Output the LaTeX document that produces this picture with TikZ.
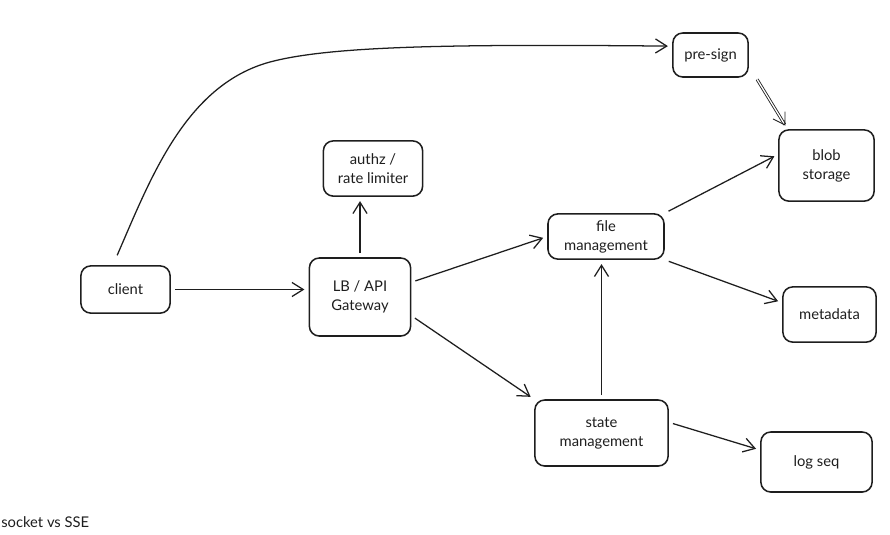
\documentclass[tikz,border=0pt]{standalone}
\usepackage{fontspec}
\setmainfont{Lato}
\usetikzlibrary{arrows.meta}
\definecolor{ink}{HTML}{1E1E1E}
\begin{document}
\begin{tikzpicture}[x=0.025cm,y=-0.025cm,
  box/.style={draw=ink,text=ink,rounded corners=7pt,line width=1.1pt,align=center,
    inner sep=0pt,font=\fontsize{10.5}{13.5}\selectfont},
  arr/.style={draw=ink,-{Straight Barb[length=8pt,width=10pt]},line width=0.9pt,
    shorten <=3pt,shorten >=3pt}]
\useasboundingbox (0,0) rectangle (890,534);
% boxes
\node[box,minimum width=2.23cm,minimum height=1.18cm] (client) at (125.5,289.5) {client};
\node[box,minimum width=2.53cm,minimum height=1.95cm] (gw) at (360,297) {LB / API\\Gateway};
\node[box,minimum width=2.48cm,minimum height=1.38cm] (authz) at (373,168.5) {authz /\\rate limiter};
\node[box,minimum width=2.90cm,minimum height=1.13cm] (file) at (606,236.5) {file\\management};
\node[box,minimum width=3.33cm,minimum height=1.65cm] (state) at (601.5,433) {state\\management};
\node[box,minimum width=1.88cm,minimum height=1.10cm] (presign) at (710.5,55) {pre-sign};
\node[box,minimum width=2.38cm,minimum height=1.78cm] (blob) at (826.5,165.5) {blob\\storage};
\node[box,minimum width=2.33cm,minimum height=1.38cm] (meta) at (829.5,314.5) {metadata};
\node[box,minimum width=2.78cm,minimum height=1.50cm] (logseq) at (816.5,462) {log seq};
\node[anchor=west,inner sep=0pt,text=ink,font=\fontsize{10.5}{12}\selectfont] (note) at (1,522) {socket vs SSE};
% arrows
\draw[arr] ([shift={(-10,-6)}]client.north) .. controls (150,180) and (185,85) .. (270,62)
  .. controls (330,46) and (450,44) .. (presign.167);
\draw[arr] (client.east) -- (client.east -| gw.west);
\draw[arr] (gw.north) -- (gw.north |- authz.south);
\draw[arr] (gw.16) -- (file.west);
\draw[arr] (gw.-20) -- (state.north west);
\draw[arr] (state.north) -- (state.north |- file.south);
\draw[arr] (file.north east) -- (blob.167);
\draw[arr] (file.south east) -- (meta.166);
\draw[arr] (state.9) -- (logseq.168);
\draw[arr,double=white,double distance=0.9pt,line width=0.6pt] ([shift={(6,-2)}]presign.south east) -- (blob.137);
\end{tikzpicture}
\end{document}
